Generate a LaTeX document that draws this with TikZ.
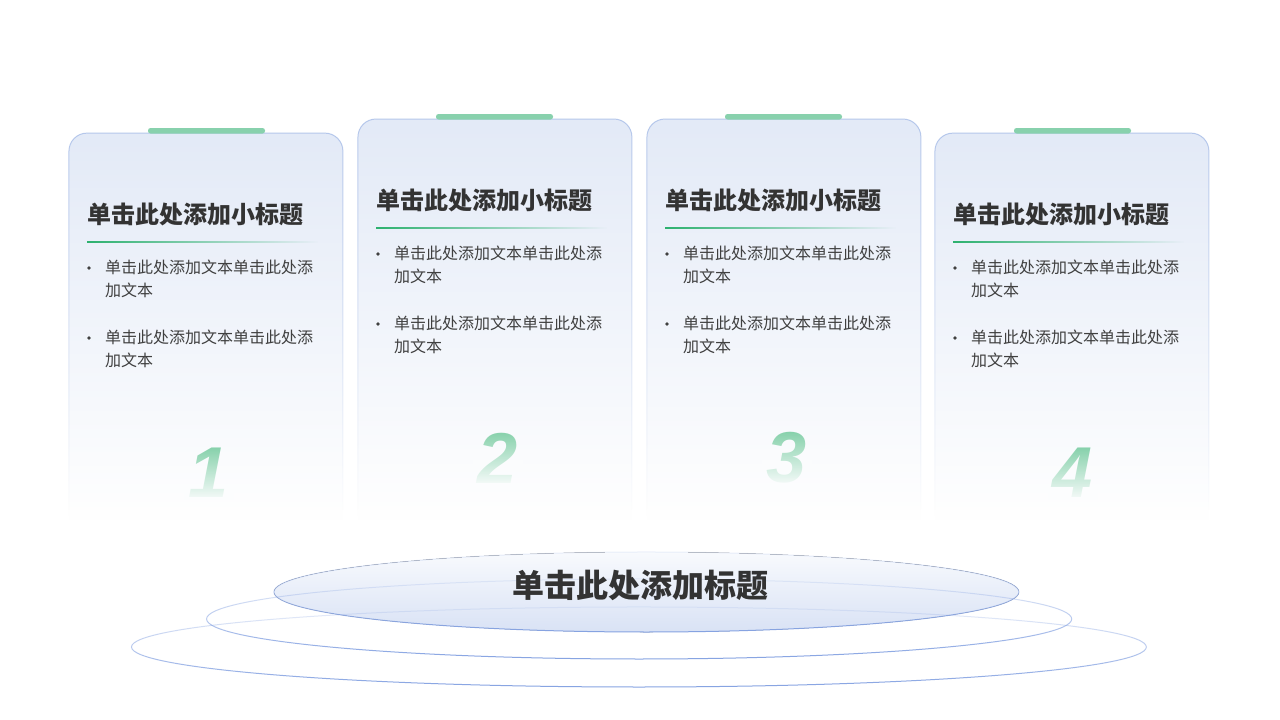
\documentclass[tikz,border=0pt]{standalone}
\usepackage{fontspec}
\setmainfont{Noto Sans CJK SC}
\newfontfamily\numfont{Liberation Sans}
\usetikzlibrary{fadings}

\definecolor{cardtop}{HTML}{E3EAF7}
\definecolor{cardline}{HTML}{B5C7EB}
\definecolor{tabgreen}{HTML}{88D1AD}
\definecolor{rulegreen}{HTML}{2DB16F}
\definecolor{numgreen}{HTML}{86D1AB}
\definecolor{titlegray}{HTML}{333333}
\definecolor{bodygray}{HTML}{404040}
\definecolor{ringline}{HTML}{86A3E2}
\definecolor{disctop}{HTML}{F8FAFD}
\definecolor{discbottom}{HTML}{D9E2F5}

\tikzfading[name=fade right, left color=transparent!0, right color=transparent!100]
\tikzfading[name=fade down, top color=transparent!0, middle color=transparent!45, bottom color=transparent!100]
\tikzfading[name=fade card, top color=transparent!0, middle color=transparent!40, bottom color=transparent!100]
\tikzfading[name=fade up, top color=transparent!85, bottom color=transparent!0]
\tikzfading[name=veil, top color=transparent!100, bottom color=transparent!3]

\tikzset{
  card/.style={fill=cardtop, path fading=fade card},
  cardedge/.style={draw=cardline, line width=1pt, rounded corners=18pt, path fading=fade down},
  tab/.style={fill=tabgreen, rounded corners=2.5pt},
  subtitle/.style={anchor=west, inner sep=0pt, text=titlegray, font=\fontsize{24}{28}\selectfont\bfseries},
  body/.style={anchor=north west, inner sep=0pt, align=left, text=bodygray, font=\fontsize{16}{23}\selectfont},
  dot/.style={circle, fill=bodygray, inner sep=0pt, minimum size=3.8pt},
  bignum/.style={inner sep=0pt, text=numgreen, font=\numfont\fontsize{72}{72}\selectfont\bfseries\itshape},
  numveil/.style={fill=cardtop!10!white, path fading=veil},
  ringedge/.style={draw=ringline, line width=1pt, path fading=fade up},
  disc/.style={top color=disctop, bottom color=discbottom},
  maintitle/.style={inner sep=0pt, text=titlegray, font=\fontsize{32}{38}\selectfont\bfseries}
}

\begin{document}
\begin{tikzpicture}[x=1pt,y=-1pt]
\useasboundingbox[fill=white] (0,0) rectangle (1280,720);

% card 1
\fill[card] (69,520) -- (69,151) arc[start angle=180, end angle=90, radius=18pt]
  -- (325,133) arc[start angle=90, end angle=0, radius=18pt] -- (343,520) -- cycle;
\draw[cardedge] (69,510) -- (69,133) -- (343,133) -- (343,510);
\fill[tab] (148,128) rectangle (265,133.5);
\node[subtitle] (title1) at (87,214) {单击此处添加小标题};
\fill[rulegreen, path fading=fade right] (87,241.3) rectangle (318,242.8);
\node[dot] (dot11) at (89,268) {};
\node[body] (text11) at (105,260) {单击此处添加文本单击此处添\\加文本};
\node[dot] (dot12) at (89,338) {};
\node[body] (text12) at (105,330) {单击此处添加文本单击此处添\\加文本};
\node[bignum] (num1) at (209,473) {1};
\fill[numveil] ([xshift=-5pt,yshift=1pt]num1.north west) rectangle ([xshift=5pt,yshift=-2pt]num1.south east);

% card 2
\fill[card] (358,520) -- (358,137) arc[start angle=180, end angle=90, radius=18pt]
  -- (614,119) arc[start angle=90, end angle=0, radius=18pt] -- (632,520) -- cycle;
\draw[cardedge] (358,510) -- (358,119) -- (632,119) -- (632,510);
\fill[tab] (436,114) rectangle (553,119.5);
\node[subtitle] (title2) at (376,200) {单击此处添加小标题};
\fill[rulegreen, path fading=fade right] (376,227.3) rectangle (607,228.8);
\node[dot] (dot21) at (378,254) {};
\node[body] (text21) at (394,246) {单击此处添加文本单击此处添\\加文本};
\node[dot] (dot22) at (378,324) {};
\node[body] (text22) at (394,316) {单击此处添加文本单击此处添\\加文本};
\node[bignum] (num2) at (498,458) {2};
\fill[numveil] ([xshift=-5pt,yshift=1pt]num2.north west) rectangle ([xshift=5pt,yshift=-2pt]num2.south east);

% card 3
\fill[card] (647,520) -- (647,137) arc[start angle=180, end angle=90, radius=18pt]
  -- (903,119) arc[start angle=90, end angle=0, radius=18pt] -- (921,520) -- cycle;
\draw[cardedge] (647,510) -- (647,119) -- (921,119) -- (921,510);
\fill[tab] (725,114) rectangle (842,119.5);
\node[subtitle] (title3) at (665,200) {单击此处添加小标题};
\fill[rulegreen, path fading=fade right] (665,227.3) rectangle (896,228.8);
\node[dot] (dot31) at (667,254) {};
\node[body] (text31) at (683,246) {单击此处添加文本单击此处添\\加文本};
\node[dot] (dot32) at (667,324) {};
\node[body] (text32) at (683,316) {单击此处添加文本单击此处添\\加文本};
\node[bignum] (num3) at (787,458) {3};
\fill[numveil] ([xshift=-5pt,yshift=1pt]num3.north west) rectangle ([xshift=5pt,yshift=-2pt]num3.south east);

% card 4
\fill[card] (935,520) -- (935,151) arc[start angle=180, end angle=90, radius=18pt]
  -- (1191,133) arc[start angle=90, end angle=0, radius=18pt] -- (1209,520) -- cycle;
\draw[cardedge] (935,510) -- (935,133) -- (1209,133) -- (1209,510);
\fill[tab] (1014,128) rectangle (1131,133.5);
\node[subtitle] (title4) at (953,214) {单击此处添加小标题};
\fill[rulegreen, path fading=fade right] (953,241.3) rectangle (1184,242.8);
\node[dot] (dot41) at (955,268) {};
\node[body] (text41) at (971,260) {单击此处添加文本单击此处添\\加文本};
\node[dot] (dot42) at (955,338) {};
\node[body] (text42) at (971,330) {单击此处添加文本单击此处添\\加文本};
\node[bignum] (num4) at (1073,473) {4};
\fill[numveil] ([xshift=-5pt,yshift=1pt]num4.north west) rectangle ([xshift=5pt,yshift=-2pt]num4.south east);

% stage
\fill[disc] (646.5,592) ellipse [x radius=372.5pt, y radius=40pt];
\draw[ringedge] (640,647) ellipse [x radius=508pt, y radius=40pt];
\draw[ringedge] (640,619) ellipse [x radius=433pt, y radius=40pt];
\draw[ringedge] (646.5,592) ellipse [x radius=372.5pt, y radius=40pt];
\node[maintitle] (head) at (640,585) {单击此处添加标题};
\end{tikzpicture}
\end{document}
